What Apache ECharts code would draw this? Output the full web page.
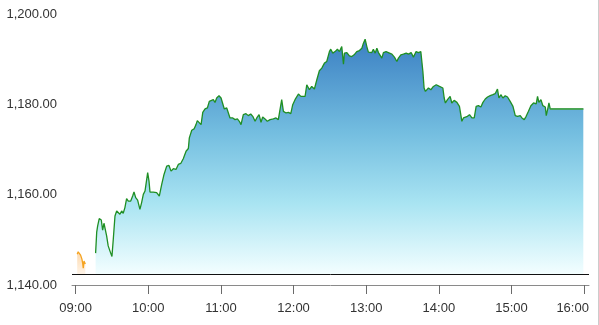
<!DOCTYPE html>
<html>
<head>
<meta charset="utf-8">
<script src="https://cdn.jsdelivr.net/npm/echarts@6/dist/echarts.min.js"></script>
<style>
html,body{margin:0;padding:0;background:#fff;}
#c{width:598px;height:325px;border-right:1px solid #cccccc;}
</style>
</head>
<body>
<div id="c"></div>
<script>
// minutes after 09:00 and price
const preTime = [1.3, 2.1, 3.0, 4.1, 5.2, 5.8, 6.3, 6.9, 8.0];
const prePrice = [1146.83, 1147.34, 1147.17, 1146.61, 1145.73, 1144.85, 1143.75, 1145.29, 1144.63];

const mainTime = [16.5,17.4,18.2,19.5,21.2,22.3,23.4,24.5,25.6,26.9,28.3,30.0,31.1,32.5,33.9,35.2,36.6,38.0,39.3,40.7,
42.1,43.5,45.5,47.1,48.2,49.6,51.2,53.1,54.5,55.9,57.3,58.7,59.5,60.6,61.4,64.1,66.9,69.1,71.1,73.0,
75.2,77.1,78.8,80.7,82.9,84.8,86.8,88.9,91.2,93.1,93.9,95.9,97.8,99.4,100.5,102.1,103.6,105.0,106.9,108.8,
110.4,111.8,113.7,115.1,116.5,118.4,120.1,121.5,122.8,124.8,126.1,127.5,129.8,131.7,133.6,135.2,136.6,138.5,140.7,142.6,
144.6,146.3,148.2,149.6,151.5,153.1,154.5,156.4,158.3,160.6,163.3,165.5,167.4,168.8,170.2,171.6,173.8,175.7,177.7,179.3,
181.2,182.6,184.0,186.0,187.6,189.5,190.9,193.1,195.0,197.2,199.2,201.3,203.3,205.5,207.4,209.6,210.7,212.4,214.3,216.2,
217.9,219.8,221.2,222.0,224.0,226.1,228.1,230.0,232.2,234.4,236.4,237.7,239.1,240.5,241.8,243.2,244.6,245.9,247.4,248.8,
250.1,251.5,252.9,254.2,256.4,258.3,261.2,263.3,265.3,266.6,268.6,270.7,273.0,274.9,277.1,279.0,281.2,283.1,285.1,286.8,
287.8,288.9,291.4,293.4,295.5,297.8,300.5,303.3,304.4,305.4,307.1,309.3,310.7,312.6,314.9,317.0,319.0,320.3,321.7,323.6,
325.3,327.3,329.2,330.8,332.7,334.7,336.4,338.3,340.2,342.4,344.6,346.5,348.4,349.6,351.2,352.9,354.8,356.7,358.9,361.2,
363.1,365.0,367.2,368.6,370.5,372.1,374.0,376.0,378.2,380.4,381.5,382.6,384.3,385.9,387.9,388.7,390.1,390.9,392.0];
const mainPrice = [1147.06,1151.69,1153.08,1154.71,1154.40,1152.13,1153.67,1153.67,1150.87,1148.66,1147.56,1146.33,1150.14,1155.28,1156.39,1156.17,1155.66,1156.39,1155.88,1157.14,
1159.12,1158.59,1158.59,1159.70,1160.58,1159.34,1158.81,1156.76,1158.24,1160.07,1160.80,1160.58,1164.86,1163.00,1160.58,1160.58,1160.45,1159.70,1162.28,1164.48,
1166.31,1166.47,1165.21,1165.74,1165.59,1166.69,1166.91,1167.95,1169.62,1170.22,1172.58,1174.26,1174.56,1175.51,1176.40,1176.24,1175.51,1178.23,1178.98,1179.20,
1180.65,1180.30,1181.03,1180.43,1181.40,1181.91,1181.40,1181.03,1178.98,1179.20,1178.98,1176.99,1176.99,1176.62,1176.77,1176.24,1175.51,1177.72,1177.94,1177.50,
1177.87,1177.34,1176.24,1176.99,1177.72,1176.02,1177.21,1176.77,1176.24,1176.62,1176.77,1176.99,1176.62,1176.46,1181.03,1178.45,1178.09,1178.23,1177.94,1179.93,
1181.03,1181.40,1182.29,1181.76,1181.54,1181.76,1184.34,1183.23,1183.96,1183.39,1185.44,1187.43,1188.02,1189.12,1189.48,1191.68,1192.21,1191.33,1191.68,1192.21,
1191.68,1192.79,1188.90,1191.33,1191.46,1190.73,1190.58,1190.96,1191.68,1191.90,1192.43,1193.54,1194.42,1192.79,1191.55,1191.90,1191.46,1192.21,1191.33,1192.43,
1191.46,1191.68,1190.23,1191.46,1191.68,1191.46,1191.11,1190.45,1189.48,1190.23,1190.96,1191.11,1191.33,1191.11,1191.46,1190.45,1191.68,1191.46,1191.68,1187.27,
1183.61,1182.86,1183.61,1183.23,1183.96,1184.34,1183.96,1183.61,1181.40,1180.30,1181.03,1181.76,1180.30,1180.87,1180.43,1179.55,1176.24,1176.99,1176.62,1177.34,
1177.72,1176.99,1176.99,1179.55,1179.70,1179.42,1180.43,1181.18,1181.62,1181.91,1182.13,1182.35,1183.39,1181.40,1182.13,1181.40,1181.91,1181.62,1180.65,1179.55,
1177.50,1177.34,1177.50,1176.99,1176.62,1177.34,1178.45,1179.70,1180.30,1180.08,1181.76,1180.43,1181.03,1179.70,1179.42,1177.50,1179.20,1180.30,1178.98];

const flatTime = [392.0, 419.3];
const flatPrice = [1178.98, 1178.98];

const baseline = 1142.4;
const xTicks = [0, 60, 120, 180, 240, 300, 360, 420];
const yMin = 1140, yMax = 1200, yStep = 20;

function zip(a, b) { return a.map((v, i) => [v, b[i]]); }
function hhmm(m) {
  const t = 540 + Math.round(m);
  const h = Math.floor(t / 60), mm = t % 60;
  return String(h).padStart(2, '0') + ':' + String(mm).padStart(2, '0');
}

const mainData = zip(mainTime, mainPrice).concat([[flatTime[1], flatPrice[1]]]);
const lastTick = xTicks[xTicks.length - 1];

const chart = echarts.init(document.getElementById('c'), null, {renderer: 'canvas'});
chart.setOption({
  animation: false,
  grid: {left: 72, right: 9, top: 14, bottom: 40, containLabel: false, outerBoundsMode: 'none'},
  xAxis: {
    type: 'value', min: -3, max: 424,
    splitLine: {show: false},
    axisLine: {show: true, onZero: false, lineStyle: {color: '#8a8a8a', width: 1}},
    axisTick: {show: true, length: 9, lineStyle: {color: '#6a6a6a'}, customValues: xTicks},
    axisLabel: {customValues: xTicks, color: '#333', fontSize: 13,
      fontFamily: 'Liberation Sans, Arial, sans-serif', margin: 17,
      formatter: v => (v === lastTick ? '{last|' + hhmm(v) + '}' : hhmm(v)),
      rich: {last: {color: '#333', fontSize: 13, fontFamily: 'Liberation Sans, Arial, sans-serif', padding: [0, 23, 0, 0]}}}
  },
  yAxis: {
    type: 'value', min: yMin, max: yMax, interval: yStep,
    splitLine: {show: false}, axisLine: {show: false}, axisTick: {show: false},
    axisLabel: {color: '#333', fontSize: 13, fontFamily: 'Liberation Sans, Arial, sans-serif', margin: 15,
      formatter: v => v.toLocaleString('en-US', {minimumFractionDigits: 2, maximumFractionDigits: 2})}
  },
  series: [
    {
      type: 'line', data: zip(preTime, prePrice), showSymbol: false, symbol: 'none',
      lineStyle: {color: '#f5a31f', width: 1.3},
      areaStyle: {origin: baseline, opacity: 1, color: new echarts.graphic.LinearGradient(0, 0, 0, 1, [
        {offset: 0, color: '#fcd9ad'}, {offset: 1, color: '#fff4e8'}])},
      z: 3
    },
    {
      type: 'line', data: mainData, showSymbol: false, symbol: 'none',
      lineStyle: {color: '#1f8f24', width: 1.3},
      areaStyle: {origin: baseline, opacity: 1, color: new echarts.graphic.LinearGradient(0, 0, 0, 1, [
        {offset: 0, color: '#3b80c3'}, {offset: 0.4, color: '#74bee0'}, {offset: 0.7, color: '#a9e4f2'}, {offset: 1, color: '#f3feff'}])},
      markLine: {silent: true, symbol: 'none', label: {show: false},
        lineStyle: {color: '#111', width: 1, type: 'solid'}, data: [{yAxis: baseline}]},
      z: 2
    },
    {
      type: 'line', data: zip(flatTime, flatPrice), showSymbol: false, symbol: 'none',
      lineStyle: {color: '#4aa552', width: 1.5}, z: 4
    }
  ]
});
</script>
</body>
</html>
